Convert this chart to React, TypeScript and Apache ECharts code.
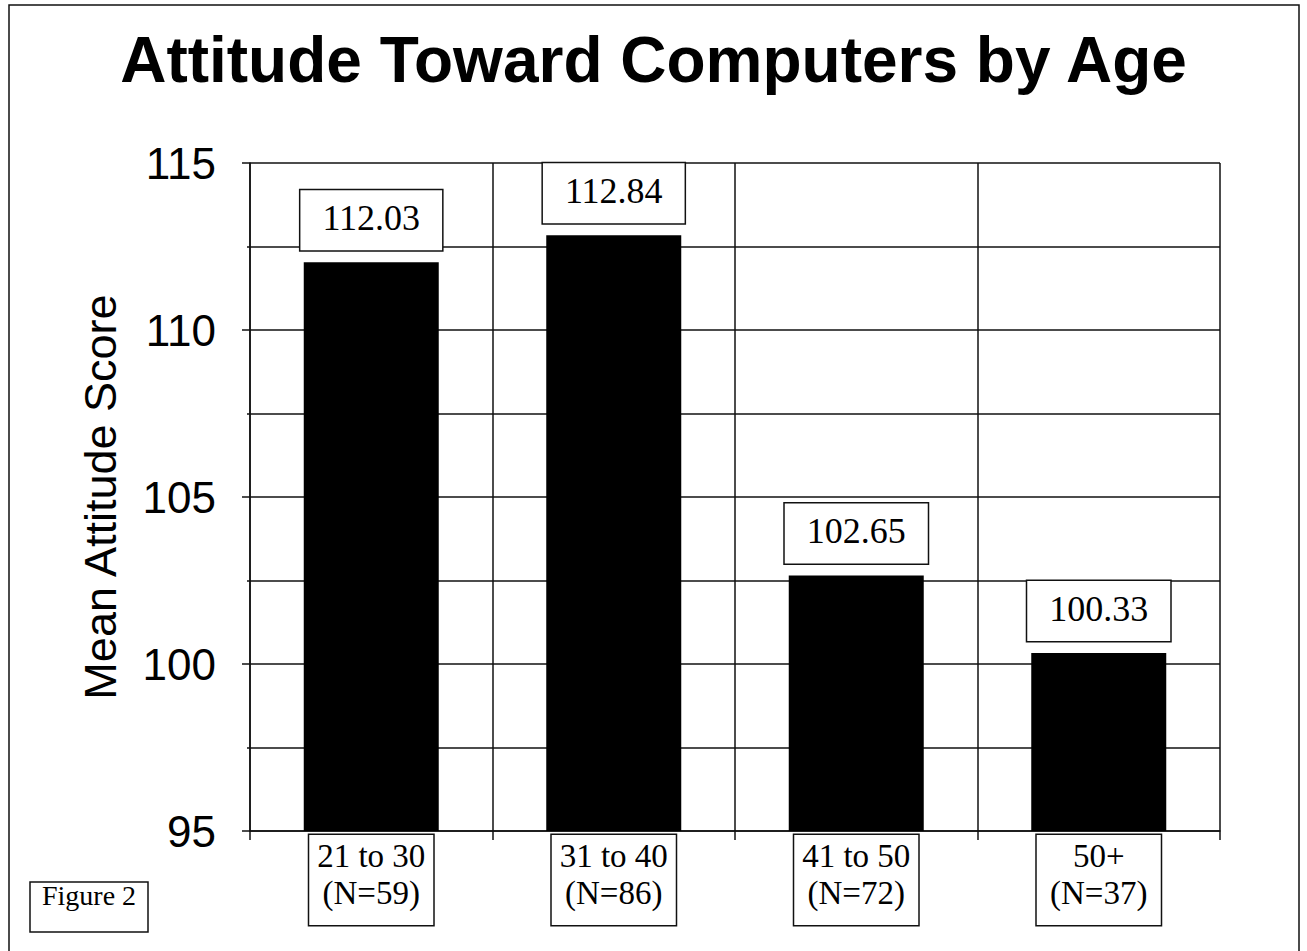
import React, { useEffect, useRef } from "react";
import * as echarts from "echarts";

const titleText = "Attitude Toward Computers by Age";
const yAxisTitle = "Mean Attitude Score";
const categories = ["21 to 30\n(N=59)", "31 to 40\n(N=86)", "41 to 50\n(N=72)", "50+\n(N=37)"];
const values = [112.03, 112.84, 102.65, 100.33];
const yMin = 95;
const yMax = 115;
const yStep = 5;
const figureLabel = "Figure 2";

const SERIF = "'Liberation Serif', 'Times New Roman', Times, serif";
const SANS = "'Liberation Sans', Arial, Helvetica, sans-serif";

export default function App() {
  const ref = useRef<HTMLDivElement>(null);

  useEffect(() => {
    document.body.style.margin = "0";
    if (!ref.current) return;
    const chart = echarts.init(ref.current, undefined, { renderer: "svg" });
    const lineStyle = { color: "#111", width: 1.5 };
    chart.setOption({
      animation: false,
      backgroundColor: "#fff",
      title: {
        text: titleText,
        left: "center",
        top: 28,
        padding: 0,
        textStyle: { fontFamily: SANS, fontSize: 64, fontWeight: "bold", color: "#000" },
      },
      grid: { left: 250, right: 87, top: 163, bottom: 120, containLabel: false },
      xAxis: {
        type: "category",
        data: categories,
        boundaryGap: true,
        axisLine: { show: true, lineStyle },
        axisTick: { show: true, length: 9, alignWithLabel: false, lineStyle },
        splitLine: { show: true, lineStyle },
        axisLabel: {
          interval: 0,
          margin: 4,
          fontFamily: SERIF,
          fontSize: 33,
          lineHeight: 37,
          color: "#000",
          backgroundColor: "#fff",
          borderColor: "#111",
          borderWidth: 1.5,
          padding: [2, 10, 14, 10],
          width: 104,
          align: "center",
        },
      },
      yAxis: {
        type: "value",
        min: yMin,
        max: yMax,
        interval: yStep,
        axisLine: { show: true, lineStyle },
        axisTick: { show: true, length: 8, lineStyle },
        minorTick: { show: true, splitNumber: 2, length: 3, lineStyle },
        splitLine: { show: true, lineStyle },
        minorSplitLine: { show: true, lineStyle },
        axisLabel: {
          margin: 34,
          fontFamily: SANS,
          fontSize: 44,
          color: "#000",
        },
      },
      series: [
        {
          type: "bar",
          data: values,
          barWidth: 135,
          itemStyle: { color: "#000" },
          label: {
            show: true,
            position: "top",
            distance: 12,
            formatter: (p: any) => Number(p.value).toFixed(2),
            fontFamily: SERIF,
            fontSize: 36,
            lineHeight: 36,
            color: "#000",
            backgroundColor: "#fff",
            borderColor: "#111",
            borderWidth: 1.5,
            padding: [10, 22, 14, 22],
          },
        },
      ],
      graphic: [
        {
          type: "rect",
          shape: { x: 9, y: 5, width: 1290, height: 1000 },
          style: { fill: "none", stroke: "#111", lineWidth: 1.5 },
          silent: true,
        },
        {
          type: "text",
          x: 100,
          y: 497,
          rotation: Math.PI / 2,
          style: {
            text: yAxisTitle,
            fontFamily: SANS,
            fontSize: 45,
            fill: "#000",
            align: "center",
            verticalAlign: "middle",
          },
        },
        {
          type: "rect",
          shape: { x: 30, y: 882, width: 118, height: 50 },
          style: { fill: "#fff", stroke: "#111", lineWidth: 1.5 },
        },
        {
          type: "text",
          x: 89,
          y: 895,
          style: {
            text: figureLabel,
            fontFamily: SERIF,
            fontSize: 28,
            fill: "#000",
            align: "center",
            verticalAlign: "middle",
          },
        },
      ],
    });
    return () => chart.dispose();
  }, []);

  return <div ref={ref} style={{ width: 1307, height: 951 }} />;
}
